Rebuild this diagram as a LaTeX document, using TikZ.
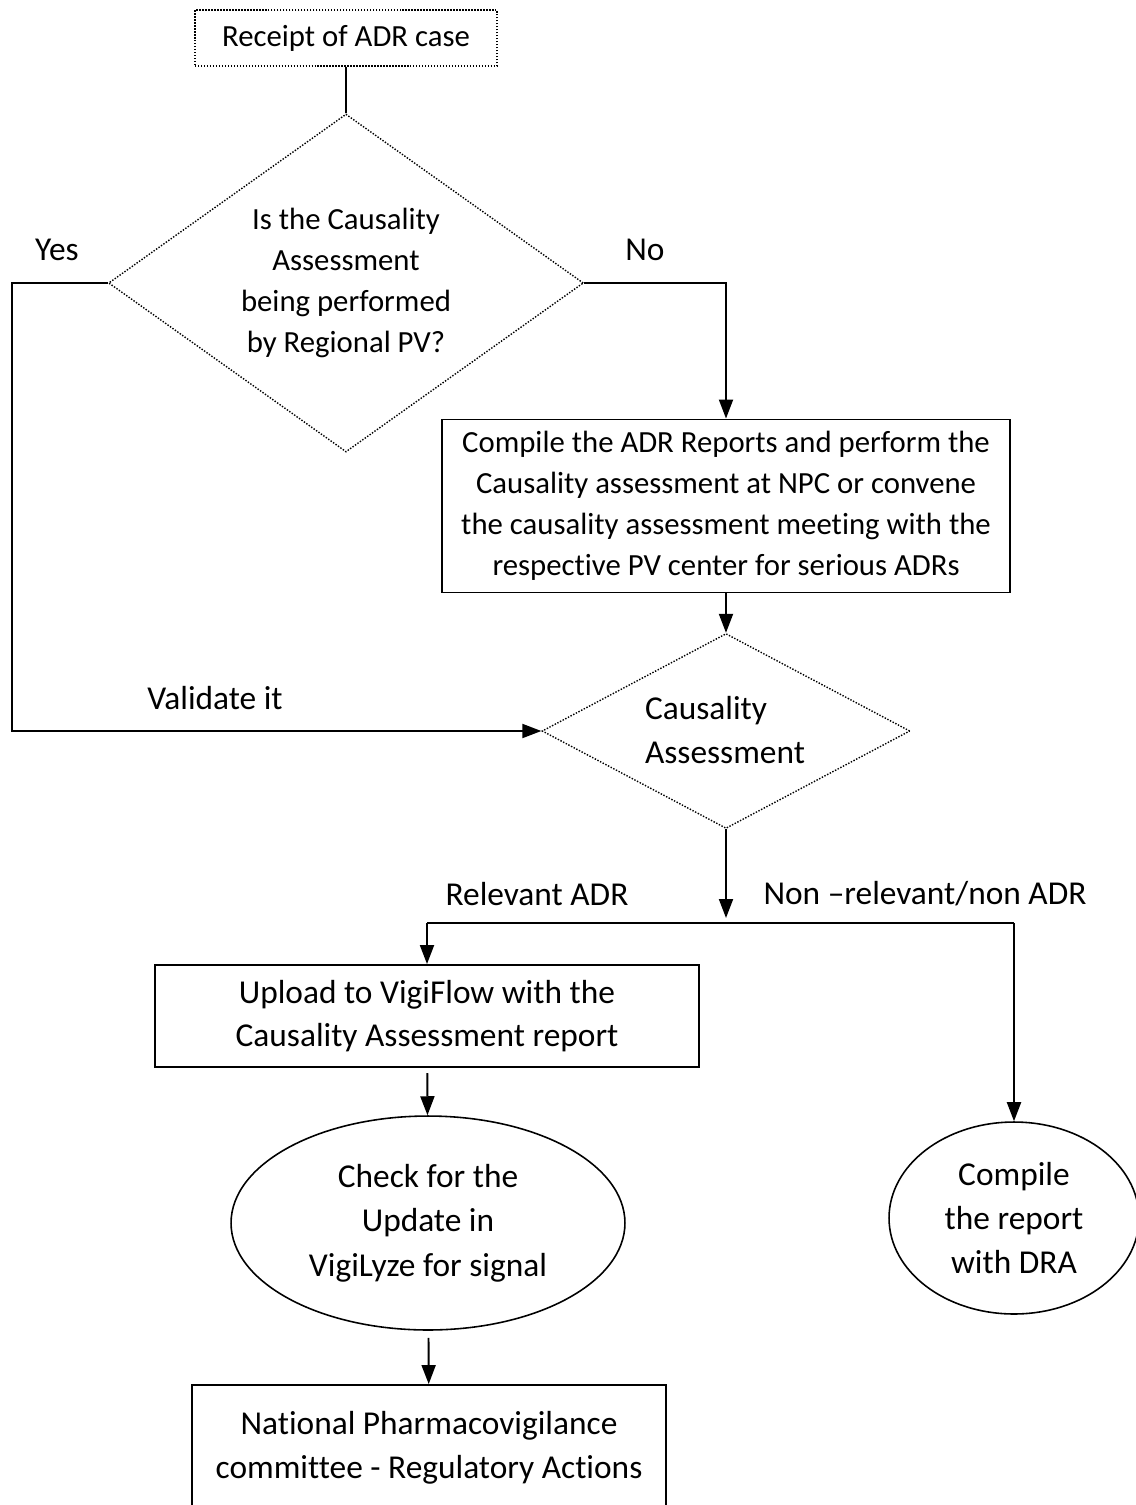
\documentclass[tikz,border=0pt]{standalone}
\usepackage{fontspec}
\setmainfont{Carlito}[Ligatures=NoCommon]
\usetikzlibrary{shapes.geometric}
\usetikzlibrary{arrows.meta}

\tikzset{
	box/.style={draw, line width=1.1pt, rectangle, align=center, inner sep=0pt},
	dotbox/.style={draw, line width=0.8pt, dash pattern=on 0.8pt off 0.9pt, rectangle, align=center, inner sep=0pt},
	decide/.style={draw, line width=0.8pt, dash pattern=on 0.8pt off 0.9pt, diamond, inner sep=0pt},
	oval/.style={draw, line width=0.9pt, ellipse, align=center, inner sep=0pt},
	arr/.style={line width=1.1pt, -{Triangle[length=0.38cm,width=0.28cm]}},
	line/.style={line width=1.1pt},
	small/.style={font=\fontsize{17.5}{23.4}\selectfont}
}

\begin{document}
\begin{tikzpicture}[x=0.02cm, y=-0.02cm, font=\fontsize{19}{24.8}\selectfont]
	\useasboundingbox (0,0) rectangle (1136,1505);
	
	\node[dotbox, small, minimum width=6.04cm, minimum height=1.12cm] (rcpt) at (346,38) {Receipt of ADR case};
	
	\node[decide, minimum width=9.5cm, minimum height=6.76cm] (q1) at (346,283) {};
	\node[align=center, small] (q1txt) at (346,283) {Is the Causality\\Assessment\\being performed\\by Regional PV?};
	
	\node[box, small, minimum width=11.36cm, minimum height=3.46cm] (npc) at (726,506) {Compile the ADR Reports and perform the\\Causality assessment at NPC or convene\\the causality assessment meeting with the\\respective PV center for serious ADRs};
	
	\node[decide, minimum width=7.36cm, minimum height=3.9cm] (q2) at (726,731) {};
	\node[align=left] (q2txt) at (725,730) {Causality\\Assessment};
	
	\node[box, minimum width=10.88cm, minimum height=2.04cm] (vigi) at (427,1016) {Upload to VigiFlow with the\\Causality Assessment report};
	\node[oval, minimum width=7.88cm, minimum height=4.28cm, font=\fontsize{19}{25.2}\selectfont] (lyze) at (428,1223) {Check for the\\Update in\\VigiLyze for signal};
	\node[box, minimum width=9.5cm, minimum height=2.52cm] (npvc) at (429,1448) {National Pharmacovigilance\\committee - Regulatory Actions};
	\node[oval, minimum width=5cm, minimum height=3.84cm] (dra) at (1014,1218) {Compile\\the report\\with DRA};
	
	% branch labels
	\node[] (yes) at (57,250) {Yes};
	\node[] (no) at (645,250) {No};
	\node[] (valid) at (215,698) {Validate it};
	\node[] (rel) at (537,894) {Relevant ADR};
	\node[] (nonrel) at (925,894) {Non –relevant/non ADR};
	
	\coordinate (yturn) at (12,283);
	\coordinate (split) at (726,918);
	\coordinate (sleft) at (427,923);
	\coordinate (sright) at (1014,923);
	
	\draw[line] (rcpt) -- (q1.north);
	\draw[arr] (q1.west) -- (yturn) |- (q2.west);
	\draw[arr] (q1.east) -| (npc.north);
	\draw[arr] (npc) -- (q2.north);
	\draw[arr] (q2.south) -- (split);
	\draw[line] (sleft) -- (sright);
	\draw[arr] (sleft) -- (vigi.north);
	\draw[arr] (sright) -- (dra.north);
	\draw[arr, shorten <=3pt] (vigi) -- (lyze);
	\draw[arr, shorten <=4pt] (lyze) -- (npvc);
	
\end{tikzpicture}
\end{document}
